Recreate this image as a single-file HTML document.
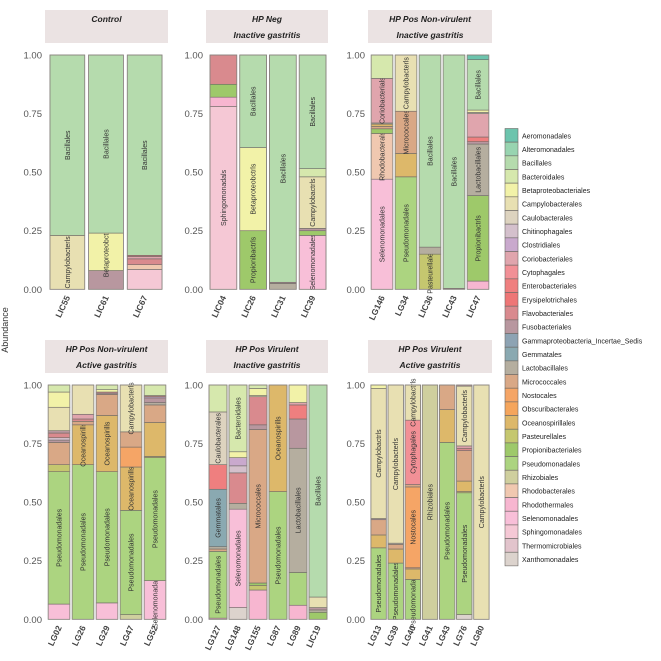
<!DOCTYPE html>
<html><head><meta charset="utf-8">
<style>
html,body{margin:0;padding:0;background:#fff;}
svg{display:block;font-family:"Liberation Sans",sans-serif;}
</style></head>
<body>
<svg id="chart" width="661" height="661" viewBox="0 0 661 661">
<text x="8" y="330" transform="rotate(-90 8 330)" text-anchor="middle" font-size="9" fill="#333">Abundance</text>
<g id="panels"></g>
<g id="legend"></g>
</svg>
<script>
// ---- data ----
const orders = ["Aeromonadales","Alteromonadales","Bacillales","Bacteroidales","Betaproteobacteriales","Campylobacterales","Caulobacterales","Chitinophagales","Clostridiales","Coriobacteriales","Cytophagales","Enterobacteriales","Erysipelotrichales","Flavobacteriales","Fusobacteriales","Gammaproteobacteria_Incertae_Sedis","Gemmatales","Lactobacillales","Micrococcales","Nostocales","Obscuribacterales","Oceanospirillales","Pasteurellales","Propionibacteriales","Pseudomonadales","Rhizobiales","Rhodobacterales","Rhodothermales","Selenomonadales","Sphingomonadales","Thermomicrobiales","Xanthomonadales"];
const orderColors = ["#6cc4ad","#98d4b0","#b5dbad","#d6e8ad","#f2f2a8","#e8e0b2","#ddd3bf","#d4c0cc","#c9a9cd","#e0a5ad","#f29096","#ef7f7f","#ee7676","#d98a8e","#b8979f","#8da3b3","#8aa9b1","#b5ae9f","#d9a886","#f5a566","#f5a55c","#ddb86a","#c5c76f","#9ec96a","#acd480","#cfcf9e","#f0c8b0","#f7b6d0","#f8bfd8","#f5c8d5","#e2c4cc","#dcd3cd"];
const yTicks = [0, 0.25, 0.5, 0.75, 1];
const yTickLabels = ["0.00","0.25","0.50","0.75","1.00"];

const titlesControl = ["Control"];
const samplesControl = ["LIC55","LIC61","LIC67"];
const barsControl = [
 [["Campylobacterales",0.23,"Campylobacterls"],["Bacillales",0.77,"Bacillales"]],
 [["Fusobacteriales",0.08],["Betaproteobacteriales",0.16,"Betaproteobctrls"],["Bacillales",0.76,"Bacillales"]],
 [["Sphingomonadales",0.085],["Rhodobacterales",0.02],["Flavobacteriales",0.025],["Coriobacteriales",0.01],["Enterobacteriales",0.005],["Bacillales",0.855,"Bacillales"]]
];
const titlesHPNeg = ["HP Neg","Inactive gastritis"];
const samplesHPNeg = ["LIC04","LIC26","LIC31","LIC39"];
const barsHPNeg = [
 [["Sphingomonadales",0.78,"Sphingomonadals"],["Rhodothermales",0.04],["Propionibacteriales",0.055],["Flavobacteriales",0.125]],
 [["Propionibacteriales",0.25,"Propionibactrls"],["Betaproteobacteriales",0.355,"Betaproteobctrls"],["Bacillales",0.395,"Bacillales"]],
 [["Lactobacillales",0.025],["Fusobacteriales",0.005],["Bacillales",0.97,"Bacillales"]],
 [["Selenomonadales",0.23,"Selenomonadales"],["Propionibacteriales",0.02],["Fusobacteriales",0.01],["Campylobacterales",0.22,"Campylobactrls"],["Bacteroidales",0.035],["Bacillales",0.485,"Bacillales"]]
];
const titlesNVInact = ["HP Pos Non-virulent","Inactive gastritis"];
const samplesNVInact = ["LG146","LG34","LIC36","LIC43","LIC47"];
const barsNVInact = [
 [["Selenomonadales",0.47,"Selenomonadales"],["Rhodobacterales",0.195,"Rhodobacterals"],["Propionibacteriales",0.02],["Micrococcales",0.01],["Oceanospirillales",0.01],["Lactobacillales",0.005],["Coriobacteriales",0.19,"Coriobacterials"],["Bacteroidales",0.1]],
 [["Pseudomonadales",0.48,"Pseudomonadales"],["Oceanospirillales",0.1],["Micrococcales",0.18,"Micrococcales"],["Campylobacterales",0.24,"Campylobacterls"]],
 [["Pasteurellales",0.15,"Pasteurellales"],["Lactobacillales",0.03],["Bacillales",0.82,"Bacillales"]],
 [["Fusobacteriales",0.004],["Bacillales",0.996,"Bacillales"]],
 [["Rhodothermales",0.035],["Propionibacteriales",0.365,"Propionibactrls"],["Lactobacillales",0.22,"Lactobacillales"],["Fusobacteriales",0.01],["Enterobacteriales",0.02],["Coriobacteriales",0.1],["Caulobacterales",0.005],["Betaproteobacteriales",0.01],["Bacillales",0.215,"Bacillales"],["Aeromonadales",0.02]]
];
const titlesNVAct = ["HP Pos Non-virulent","Active gastritis"];
const samplesNVAct = ["LG02","LG26","LG29","LG47","LG52"];
const barsNVAct = [
 [["Selenomonadales",0.065],["Pseudomonadales",0.565,"Pseudomonadales"],["Pasteurellales",0.03],["Micrococcales",0.095],["Fusobacteriales",0.01],["Chitinophagales",0.01],["Flavobacteriales",0.02],["Fusobacteriales",0.01],["Campylobacterales",0.1],["Betaproteobacteriales",0.065],["Bacteroidales",0.03]],
 [["Pseudomonadales",0.66,"Pseudomonadales"],["Oceanospirillales",0.17,"Oceanospirills"],["Micrococcales",0.015],["Flavobacteriales",0.01],["Coriobacteriales",0.02],["Campylobacterales",0.125]],
 [["Selenomonadales",0.07],["Pseudomonadales",0.56,"Pseudomonadales"],["Oceanospirillales",0.24,"Oceanospirills"],["Micrococcales",0.09],["Fusobacteriales",0.005],["Flavobacteriales",0.005],["Betaproteobacteriales",0.01],["Bacteroidales",0.02]],
 [["Rhizobiales",0.02],["Pseudomonadales",0.445,"Pseudomonadales"],["Oceanospirillales",0.185,"Oceanospirills"],["Nostocales",0.085],["Micrococcales",0.065],["Campylobacterales",0.2,"Campylobacterls"]],
 [["Selenomonadales",0.165,"Selenomonadales"],["Pseudomonadales",0.525,"Pseudomonadales"],["Pasteurellales",0.005],["Oceanospirillales",0.145],["Micrococcales",0.075],["Lactobacillales",0.01],["Fusobacteriales",0.02],["Clostridiales",0.005],["Flavobacteriales",0.005],["Bacteroidales",0.045]]
];
const titlesVInact = ["HP Pos Virulent","Inactive gastritis"];
const samplesVInact = ["LG127","LG148","LG155","LG87","LG89","LIC19"];
const barsVInact = [
 [["Rhodothermales",0.005],["Pseudomonadales",0.285,"Pseudomonadales"],["Micrococcales",0.01],["Lactobacillales",0.01],["Gemmatales",0.245,"Gemmatales"],["Enterobacteriales",0.105],["Caulobacterales",0.225,"Caulobacterales"],["Bacteroidales",0.115]],
 [["Xanthomonadales",0.05],["Selenomonadales",0.42,"Selenomonadales"],["Lactobacillales",0.025],["Flavobacteriales",0.13],["Chitinophagales",0.03],["Clostridiales",0.035],["Betaproteobacteriales",0.025],["Bacteroidales",0.285,"Bacteroidales"]],
 [["Rhodothermales",0.125],["Pasteurellales",0.02],["Propionibacteriales",0.01],["Micrococcales",0.655,"Micrococcales"],["Fusobacteriales",0.02],["Flavobacteriales",0.12],["Campylobacterales",0.005],["Betaproteobacteriales",0.03],["Bacteroidales",0.015]],
 [["Pseudomonadales",0.545,"Pseudomonadales"],["Oceanospirillales",0.455,"Oceanospirills"]],
 [["Rhodothermales",0.06],["Pseudomonadales",0.14],["Lactobacillales",0.53,"Lactobacillales"],["Fusobacteriales",0.125],["Enterobacteriales",0.06],["Coriobacteriales",0.01],["Betaproteobacteriales",0.075]],
 [["Propionibacteriales",0.03],["Lactobacillales",0.01],["Fusobacteriales",0.01],["Campylobacterales",0.045],["Bacillales",0.905,"Bacillales"]]
];
const titlesVAct = ["HP Pos Virulent","Active gastritis"];
const samplesVAct = ["LG13","LG39","LG40","LG41","LG43","LG76","LG80"];
const barsVAct = [
 [["Pseudomonadales",0.305,"Pseudomonadales"],["Oceanospirillales",0.055],["Micrococcales",0.065],["Fusobacteriales",0.005],["Campylobacterales",0.555,"Campylobactrls"],["Betaproteobacteriales",0.015]],
 [["Pseudomonadales",0.24,"Pseudomonadales"],["Oceanospirillales",0.06],["Micrococcales",0.02],["Lactobacillales",0.005],["Campylobacterales",0.675,"Campylobacterls"]],
 [["Pseudomonadales",0.17,"Pseudomonadales"],["Oceanospirillales",0.045],["Micrococcales",0.005],["Nostocales",0.345,"Nostocales"],["Micrococcales",0.01],["Cytophagales",0.275,"Cytophagales"],["Campylobacterales",0.15,"Campylobactrls"]],
 [["Rhizobiales",1,"Rhizobiales"]],
 [["Pseudomonadales",0.755,"Pseudomonadales"],["Oceanospirillales",0.14],["Micrococcales",0.105]],
 [["Xanthomonadales",0.02],["Pseudomonadales",0.52,"Pseudomonadales"],["Pasteurellales",0.005],["Oceanospirillales",0.045],["Micrococcales",0.13],["Flavobacteriales",0.01],["Coriobacteriales",0.01],["Campylobacterales",0.255,"Campylobacterls"],["Fusobacteriales",0.005]],
 [["Campylobacterales",1,"Campylobacterls"]]
];

// ---- layout (not data) ----
const panelDefs = [
 {name:"control", titles:titlesControl, samples:samplesControl, bars:barsControl, sx:45, sw:123, px0:48, px1:164, top:true},
 {name:"hp-neg-inactive", titles:titlesHPNeg, samples:samplesHPNeg, bars:barsHPNeg, sx:206, sw:122, px0:208.5, px1:327.5, top:true},
 {name:"hp-pos-nonvirulent-inactive", titles:titlesNVInact, samples:samplesNVInact, bars:barsNVInact, sx:368, sw:124, px0:370, px1:490, top:true},
 {name:"hp-pos-nonvirulent-active", titles:titlesNVAct, samples:samplesNVAct, bars:barsNVAct, sx:45, sw:123, px0:47, px1:167, top:false},
 {name:"hp-pos-virulent-inactive", titles:titlesVInact, samples:samplesVInact, bars:barsVInact, sx:206, sw:122, px0:208, px1:328, top:false},
 {name:"hp-pos-virulent-active", titles:titlesVAct, samples:samplesVAct, bars:barsVAct, sx:368, sw:124, px0:370, px1:490, top:false}
];
const NS="http://www.w3.org/2000/svg";
function mk(tag, attrs, parent){const e=document.createElementNS(NS,tag);for(const k in attrs)e.setAttribute(k,attrs[k]);parent.appendChild(e);return e;}
function colorOf(o){return orderColors[orders.indexOf(o)]||"#ccc";}
const root=document.getElementById("panels");
panelDefs.forEach(p=>{
  const g=mk("g",{},root);
  
  
  const sy = p.top?10:340, y0 = p.top?289.3:619.3, H=234.3;
  const yScale=v=>y0-v*H;
  const strip=mk("rect",{x:p.sx,y:sy,width:p.sw,height:33,fill:"#ebe3e3"},g);
  
  
  p.titles.forEach((t,i)=>{
    const tt=mk("text",{x:p.sx+p.sw/2,y:sy+12+i*16,"text-anchor":"middle","font-size":"8.5","font-weight":"bold","font-style":"italic",fill:"#222"},g);
    tt.textContent=t;
    
    
  });
  const tickX = p.sx-3;
  yTicks.forEach((v,i)=>{
    const t=mk("text",{x:tickX,y:yScale(v)+3.5,"text-anchor":"end","font-size":"9.5",fill:"#555"},g);
    t.textContent=yTickLabels[i];
    
    
  });
  const n=p.samples.length, step=(p.px1-p.px0)/n, bw=step*0.9;
  p.samples.forEach((s,i)=>{
    const bx=p.px0+i*step+(step-bw)/2;
    const bg=mk("g",{},g);
    
    
    let cum=0;
    p.bars[i].forEach(seg=>{
      const v=seg[1];
      const yT=yScale(cum+v), yB=yScale(cum);
      const r=mk("rect",{x:bx,y:yT,width:bw,height:Math.max(0,yB-yT),fill:colorOf(seg[0]),stroke:"#6e6a66","stroke-width":"0.6"},bg);
      
      
      if(seg[2]){
        const cx=bx+bw/2+2.5, cy=(yT+yB)/2;
        const lt=mk("text",{x:cx,y:cy,transform:`rotate(-90 ${cx} ${cy})`,"text-anchor":"middle","font-size":"7",fill:"#333"},bg);
        lt.textContent=seg[2];
        
        
      }
      cum+=v;
    });
    const ol=mk("rect",{x:bx,y:yScale(1),width:bw,height:H,fill:"none",stroke:"#8a8580","stroke-width":"0.8"},bg);
    
    
    const lx=bx+bw/2+3, ly=y0+8;
    const sl=mk("text",{x:lx,y:ly,transform:`rotate(-65 ${lx} ${ly})`,"text-anchor":"end","font-size":"8.5","font-weight":"bold",fill:"#444"},g);
    sl.textContent=s;
    
    
  });
});
const leg=document.getElementById("legend");
orders.forEach((o,i)=>{
  const y=135.3+i*13.67;
  const eg=mk("g",{},leg);
  
  
  mk("rect",{x:505,y:y-6.8,width:13,height:13.6,fill:orderColors[i],stroke:"#6e6a66","stroke-width":"0.6"},eg);
  const t=mk("text",{x:522,y:y+3,"font-size":"7","fill":"#222"},eg);
  t.textContent=o;
});
</script>
</body></html>
